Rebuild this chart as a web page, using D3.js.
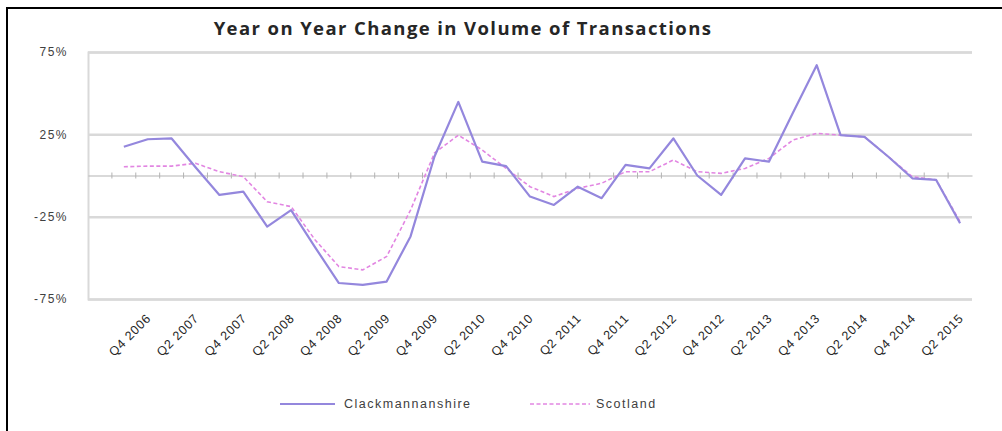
<!DOCTYPE html>
<html>
<head>
<meta charset="utf-8">
<script src="https://cdn.jsdelivr.net/npm/d3@7"></script>
<style>
  html, body { margin: 0; background: #fff; overflow: hidden; }
  svg { display: block; overflow: hidden; }
</style>
</head>
<body>
<svg id="chart" width="1002" height="431"></svg>
<script>
// quarters on the category axis (first slot is empty in the source sheet)
const quarters = ['', 'Q3 2006', 'Q4 2006', 'Q1 2007', 'Q2 2007', 'Q3 2007', 'Q4 2007',
  'Q1 2008', 'Q2 2008', 'Q3 2008', 'Q4 2008', 'Q1 2009', 'Q2 2009', 'Q3 2009', 'Q4 2009',
  'Q1 2010', 'Q2 2010', 'Q3 2010', 'Q4 2010', 'Q1 2011', 'Q2 2011', 'Q3 2011', 'Q4 2011',
  'Q1 2012', 'Q2 2012', 'Q3 2012', 'Q4 2012', 'Q1 2013', 'Q2 2013', 'Q3 2013', 'Q4 2013',
  'Q1 2014', 'Q2 2014', 'Q3 2014', 'Q4 2014', 'Q1 2015', 'Q2 2015'];

const tickLabels = ['Q4 2006', 'Q2 2007', 'Q4 2007', 'Q2 2008', 'Q4 2008', 'Q2 2009',
  'Q4 2009', 'Q2 2010', 'Q4 2010', 'Q2 2011', 'Q4 2011', 'Q2 2012', 'Q4 2012', 'Q2 2013',
  'Q4 2013', 'Q2 2014', 'Q4 2014', 'Q2 2015'];

const yTicks = [75, 25, -25, -75];

// year on year change, %
const clackmannanshire = [null, 17.5, 22, 22.5, 5, -11.8, -9.8, -31, -21, -43.5, -65.3,
  -66.4, -64.4, -37, 11.4, 44.7, 8.4, 5.7, -12.8, -17.9, -6.8, -13.8, 6.4, 4.3, 22.5, 0,
  -11.8, 10.4, 8.4, 38, 67, 24.5, 23.5, 11.4, -1.7, -2.7, -29];

const scotland = [null, 5.3, 5.7, 5.7, 7.4, 2.3, -0.7, -15.9, -18.9, -39, -55.3, -57.3,
  -49.2, -21, 13.6, 24.5, 15.5, 4.3, -6.8, -12.8, -7.8, -4.7, 2.3, 2.3, 9.4, 2.3, 1.3, 4.3,
  10.4, 21.5, 25.6, 24.5, 23.5, 11.4, -0.7, -2.7, -28];

const opts = {
  plot: { left: 88, right: 972, top: 52, bottom: 299 },
  clackColor: '#9487dd',
  scotColor: '#e286e2',
  gridColor: '#d9d9d9',
  textColor: '#404040',
};

const svg = d3.select('#chart');

// outer frame (only the top and left edges fall inside the picture)
svg.append('path')
  .attr('d', 'M7,431 V8 H1002')
  .attr('fill', 'none')
  .attr('stroke', '#000')
  .attr('stroke-width', 2);

const x = d3.scaleBand()
  .domain(quarters)
  .range([opts.plot.left, opts.plot.right])
  .padding(0);

const y = d3.scaleLinear()
  .domain([-75, 75])
  .range([opts.plot.bottom, opts.plot.top]);

const cx = d => x(d) + x.bandwidth() / 2;

svg.append('text')
  .attr('x', 463)
  .attr('y', 35)
  .attr('text-anchor', 'middle')
  .attr('font-family', 'Open Sans, sans-serif')
  .attr('font-weight', 'bold')
  .attr('font-size', 18.5)
  .attr('letter-spacing', 1.4)
  .attr('fill', '#262626')
  .text('Year on Year Change in Volume of Transactions');

// value axis with gridlines
const yAxis = svg.append('g')
  .attr('transform', `translate(${opts.plot.left},0)`)
  .call(d3.axisLeft(y)
    .tickValues(yTicks)
    .tickSize(-(opts.plot.right - opts.plot.left))
    .tickPadding(20)
    .tickFormat(d => `${d}%`));

yAxis.select('.domain')
  .attr('stroke', opts.gridColor)
  .attr('stroke-width', 2);
yAxis.selectAll('.tick line')
  .attr('stroke', opts.gridColor)
  .attr('stroke-width', 2.5);
yAxis.selectAll('.tick text')
  .attr('font-family', 'Liberation Sans, sans-serif')
  .attr('font-size', 12)
  .attr('letter-spacing', 1.5)
  .attr('fill', opts.textColor);

// category axis through zero
const xAxis = svg.append('g')
  .attr('transform', `translate(0,${y(0)})`)
  .call(d3.axisBottom(x).tickValues([]).tickSizeOuter(0));

xAxis.select('.domain')
  .attr('stroke', '#b3b3b3')
  .attr('stroke-width', 1.2);

xAxis.selectAll('.cat-tick')
  .data(quarters.slice(1))
  .join('line')
  .attr('class', 'cat-tick')
  .attr('x1', d => x(d))
  .attr('x2', d => x(d))
  .attr('y1', -3)
  .attr('y2', 3)
  .attr('stroke', '#b3b3b3');

// rotated category labels below the plot
svg.append('g')
  .selectAll('text')
  .data(tickLabels)
  .join('text')
  .attr('transform', d => `translate(${cx(d) + 1},${opts.plot.bottom + 17}) rotate(-45)`)
  .attr('text-anchor', 'end')
  .attr('dy', '0.35em')
  .attr('font-family', 'Liberation Sans, sans-serif')
  .attr('font-size', 12.5)
  .attr('letter-spacing', 0.8)
  .attr('fill', '#262626')
  .text(d => d);

const line = d3.line()
  .defined(d => d.v !== null)
  .x(d => cx(d.q))
  .y(d => y(d.v));

svg.append('path')
  .datum(quarters.map((q, i) => ({ q, v: scotland[i] })))
  .attr('d', line)
  .attr('fill', 'none')
  .attr('stroke', opts.scotColor)
  .attr('stroke-width', 1.6)
  .attr('stroke-dasharray', '4 2.5');

svg.append('path')
  .datum(quarters.map((q, i) => ({ q, v: clackmannanshire[i] })))
  .attr('d', line)
  .attr('fill', 'none')
  .attr('stroke', opts.clackColor)
  .attr('stroke-width', 2.2)
  .attr('stroke-linejoin', 'round');

// legend
const legend = svg.append('g')
  .attr('font-family', 'Liberation Sans, sans-serif')
  .attr('font-size', 12.5)
  .attr('letter-spacing', 1.5)
  .attr('fill', '#404040');

legend.append('line')
  .attr('x1', 280).attr('x2', 335)
  .attr('y1', 404).attr('y2', 404)
  .attr('stroke', opts.clackColor)
  .attr('stroke-width', 2);
legend.append('text')
  .attr('x', 344).attr('y', 404)
  .attr('dy', '0.35em')
  .text('Clackmannanshire');

legend.append('line')
  .attr('x1', 530).attr('x2', 590)
  .attr('y1', 404).attr('y2', 404)
  .attr('stroke', opts.scotColor)
  .attr('stroke-width', 1.6)
  .attr('stroke-dasharray', '4 2.5');
legend.append('text')
  .attr('x', 596).attr('y', 404)
  .attr('dy', '0.35em')
  .text('Scotland');
</script>
</body>
</html>
